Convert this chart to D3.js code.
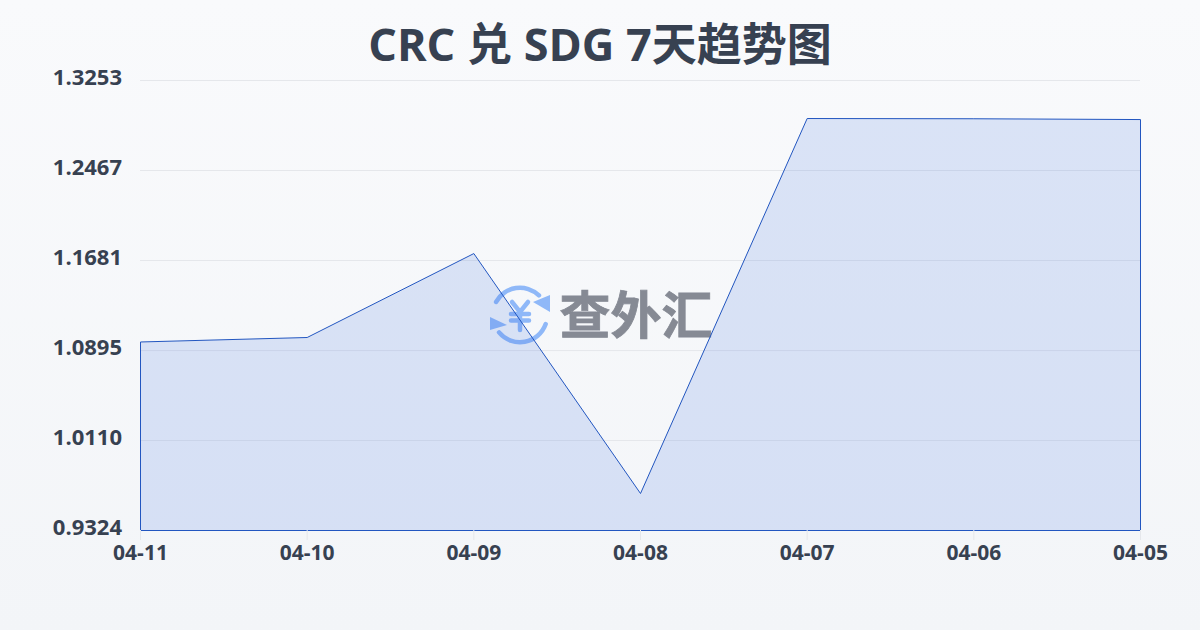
<!DOCTYPE html>
<html>
<head>
<meta charset="utf-8">
<script src="https://cdn.jsdelivr.net/npm/d3@7"></script>
<style>
  html, body { margin: 0; padding: 0; }
  svg { display: block; }
  text { font-family: "Open Sans", "Noto Sans CJK SC", sans-serif; }
</style>
</head>
<body>
<div id="plot"></div>
<script>
const title = "CRC 兑 SDG 7天趋势图"
const days = ["04-11", "04-10", "04-09", "04-08", "04-07", "04-06", "04-05"]
const rates = [1.0970, 1.1009, 1.1742, 0.9647, 1.2921, 1.2919, 1.2912]
const yTicks = [0.9324, 1.0110, 1.0895, 1.1681, 1.2467, 1.3253]

const w = 1200,
    h = 630,
    margin = {top: 80, right: 60, bottom: 100, left: 140},
    textColor = "#374151",
    lineColor = "#2256c0",
    iconColor = "#8fb8f8"

const x = d3.scalePoint()
    .domain(days)
    .range([margin.left, w - margin.right])

const y = d3.scaleLinear()
    .domain([d3.min(yTicks), d3.max(yTicks)])
    .range([h - margin.bottom, margin.top])

const svg = d3.select("#plot").append("svg")
    .attr("width", w)
    .attr("height", h)
    .attr("viewBox", `0 0 ${w} ${h}`)

const defs = svg.append("defs")
const bg = defs.append("linearGradient")
    .attr("id", "bg")
    .attr("x1", 0).attr("x2", 0).attr("y1", 0).attr("y2", 1)
bg.append("stop").attr("offset", "0%").attr("stop-color", "#f9fafc")
bg.append("stop").attr("offset", "100%").attr("stop-color", "#f3f5f8")

svg.append("rect")
    .attr("width", w)
    .attr("height", h)
    .attr("fill", "url(#bg)")

// title
svg.append("text")
    .attr("x", w / 2)
    .attr("y", 61)
    .attr("text-anchor", "middle")
    .attr("font-size", 45)
    .attr("font-weight", 700)
    .attr("fill", textColor)
    .text(title)

// grid lines and y labels
const yAxis = svg.append("g")
    .attr("class", "y-axis")
    .attr("transform", `translate(${margin.left}, 0)`)
    .call(d3.axisLeft(y)
      .tickValues(yTicks)
      .tickSize(-(w - margin.left - margin.right))
      .tickPadding(18)
      .tickFormat(d3.format(".4f")))
yAxis.select(".domain").remove()
yAxis.selectAll(".tick line").attr("stroke", "#e5e7eb").attr("stroke-width", 1)
yAxis.selectAll(".tick text")
    .attr("dy", "0.22em")
    .attr("font-size", 22)
    .attr("font-weight", 700)
    .attr("fill", textColor)

// watermark sits under the area
const mark = svg.append("g")
    .attr("class", "watermark")
    .attr("transform", "translate(520, 315)")
const arc = d3.arc().innerRadius(25).outerRadius(29.5).cornerRadius(2.2)
mark.append("path")
    .attr("d", arc({startAngle: -1.15, endAngle: 0.85}))
    .attr("fill", iconColor)
mark.append("path")
    .attr("d", arc({startAngle: 1.83, endAngle: 4.1}))
    .attr("fill", iconColor)
mark.append("path").attr("d", "M13 -13 L30 -20 L30 -3 Z").attr("fill", iconColor)
mark.append("path").attr("d", "M-30 2 L-13 10 L-30 15 Z").attr("fill", iconColor)
mark.append("path")
    .attr("d", "M-8 -13 L0 -3 L8 -13 M-9 -1 H9 M-9 5.5 H9 M0 -3 V15")
    .attr("fill", "none")
    .attr("stroke", iconColor)
    .attr("stroke-width", 4.5)
    .attr("stroke-linecap", "round")
svg.append("text")
    .attr("x", 636)
    .attr("y", 334)
    .attr("text-anchor", "middle")
    .attr("font-size", 51)
    .attr("font-weight", 700)
    .attr("font-family", '"Noto Sans CJK SC", sans-serif')
    .attr("fill", "#868a94")
    .attr("stroke", "#868a94")
    .attr("stroke-width", 0.8)
    .text("查外汇")

const points = days.map((d, i) => ({day: d, rate: rates[i]}))

// area with outline down to the baseline
svg.append("path")
    .datum(points)
    .attr("transform", "translate(0.5, 0.5)")
    .attr("fill", "#3c6ee0")
    .attr("fill-opacity", 0.16)
    .attr("stroke", lineColor)
    .attr("stroke-width", 1)
    .attr("d", d3.area()
      .x(d => x(d.day))
      .y0(y(d3.min(yTicks)))
      .y1(d => y(d.rate)))

// x axis labels
const xAxis = svg.append("g")
    .attr("class", "x-axis")
    .attr("transform", `translate(0, ${h - margin.bottom})`)
    .call(d3.axisBottom(x).tickSize(10).tickPadding(5))
xAxis.select(".domain").remove()
xAxis.selectAll(".tick line").attr("stroke", "#e5e7eb").attr("stroke-width", 1)
xAxis.selectAll(".tick text")
    .attr("font-size", 21)
    .attr("font-weight", 700)
    .attr("fill", textColor)
</script>
</body>
</html>
